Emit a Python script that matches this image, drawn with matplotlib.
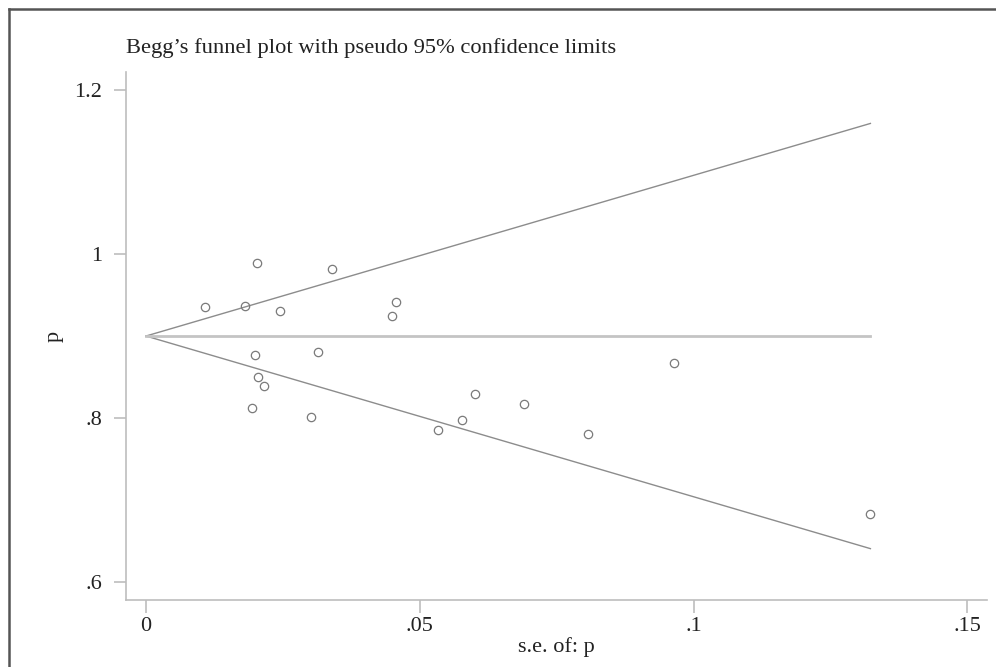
#!/usr/bin/env python3
"""Begg's funnel plot with pseudo 95% confidence limits."""
import matplotlib

matplotlib.use("Agg")
import matplotlib.pyplot as plt  # noqa: E402
from matplotlib.lines import Line2D  # noqa: E402

# standard errors and estimates
se = [0.0203, 0.0340, 0.0107, 0.0180, 0.0245, 0.0456, 0.0449, 0.0199,
      0.0314, 0.0205, 0.0215, 0.0193, 0.0302, 0.0600, 0.0577, 0.0534,
      0.0691, 0.0807, 0.0965, 0.1323]
p = [0.989, 0.982, 0.935, 0.937, 0.930, 0.942, 0.925, 0.877,
     0.881, 0.850, 0.839, 0.812, 0.801, 0.829, 0.798, 0.785,
     0.817, 0.781, 0.867, 0.683]
pooled = 0.9
se_max = max(se)

x_ticks = [0, 0.05, 0.1, 0.15]
x_tick_labels = ["0", ".05", ".1", ".15"]
y_ticks = [0.6, 0.8, 1.0, 1.2]
y_tick_labels = [".6", ".8", "1", "1.2"]

plt.rcParams["font.family"] = ["Liberation Serif", "DejaVu Serif"]

fig = plt.figure(figsize=(9.96, 6.67), dpi=100)
ax = fig.add_axes([0.1265, 0.1004, 0.8645, 0.7916])

# funnel limits
ax.plot([0, se_max], [pooled, pooled + 1.96 * se_max], color="#8c8c8c", lw=1.0)
ax.plot([0, se_max], [pooled, pooled - 1.96 * se_max], color="#8c8c8c", lw=1.0)
ax.plot([0, se_max], [pooled, pooled], color="#c4c4c4", lw=2.0)

ax.plot(se, p, linestyle="none", marker="o", markersize=6,
        markerfacecolor="none", markeredgecolor="#7a7a7a", markeredgewidth=0.9)

ax.set_xlim(-0.00365, 0.1536)
ax.set_ylim(0.578, 1.222)
ax.set_xticks(x_ticks)
ax.set_xticklabels(x_tick_labels)
ax.set_yticks(y_ticks)
ax.set_yticklabels(y_tick_labels)

for side in ("top", "right"):
    ax.spines[side].set_visible(False)
for side in ("left", "bottom"):
    ax.spines[side].set_color("#bdbdbd")
    ax.spines[side].set_linewidth(1.2)

ax.tick_params(axis="both", colors="#bdbdbd", labelcolor="#222222",
               labelsize=16, length=9, width=1.2)
ax.tick_params(axis="y", pad=8)
ax.tick_params(axis="x", pad=3)

ax.set_xlabel("s.e. of: p", fontsize=16, color="#222222", labelpad=1)
ax.set_ylabel("p", fontsize=16, color="#222222")
ax.yaxis.set_label_coords(-0.072, 0.5)
ax.set_title("Begg\u2019s funnel plot with pseudo 95% confidence limits",
             fontsize=16.2, color="#222222", loc="left", pad=14)

# outer frame (left and top edges visible)
fig.add_artist(Line2D([9 / 996, 9 / 996], [0, 1 - 9 / 667],
                      transform=fig.transFigure, color="#555555", lw=1.8))
fig.add_artist(Line2D([9 / 996, 1], [1 - 9 / 667, 1 - 9 / 667],
                      transform=fig.transFigure, color="#555555", lw=1.8))

fig.savefig("out.png", dpi=100)
